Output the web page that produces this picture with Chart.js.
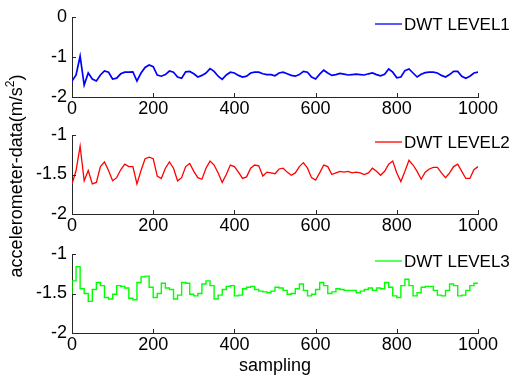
<!DOCTYPE html>
<html>
<head>
<meta charset="utf-8">
<script src="https://cdn.jsdelivr.net/npm/chart.js@4.4.1/dist/chart.umd.min.js"></script>
<style>
  body { margin: 0; background: #fff; width: 527px; height: 378px; position: relative; overflow: hidden;
         font-family: Arial, "Liberation Sans", sans-serif; }
  canvas { position: absolute; left: 0; }
  #ylab { position: absolute; left: -133px; top: 164px; width: 300px; text-align: center; font-size: 18px;
          line-height: 22px; transform: rotate(-90deg); color: #000; }
  #ylab sup { font-size: 12px; vertical-align: baseline; position: relative; top: -8px; }
  #xlab { position: absolute; left: 175px; top: 355px; width: 200px; text-align: center; font-size: 18px; color: #000; }
</style>
</head>
<body>
<canvas id="c1" width="527" height="120" style="top:0px"></canvas>
<canvas id="c2" width="527" height="120" style="top:118px"></canvas>
<canvas id="c3" width="527" height="120" style="top:237px"></canvas>
<div id="ylab">accelerometer-data(m/s<sup>2</sup>)</div>
<div id="xlab">sampling</div>
<script>
// sample index every 10 samples, 0..1000
const samples = Array.from({ length: 101 }, (_, i) => i * 10);
const xTicks = [0, 200, 400, 600, 800, 1000];

const level1 = [
  -1.60, -1.45, -0.98, -1.70, -1.40, -1.55, -1.60, -1.45, -1.35, -1.38,
  -1.55, -1.53, -1.42, -1.38, -1.38, -1.37, -1.60, -1.40, -1.26, -1.20,
  -1.24, -1.45, -1.48, -1.44, -1.35, -1.38, -1.50, -1.53, -1.37, -1.36,
  -1.42, -1.50, -1.46, -1.40, -1.29, -1.36, -1.48, -1.56, -1.45, -1.38,
  -1.40, -1.46, -1.50, -1.48, -1.40, -1.38, -1.38, -1.42, -1.44, -1.44,
  -1.47, -1.40, -1.38, -1.42, -1.46, -1.48, -1.44, -1.36, -1.38, -1.50,
  -1.55, -1.43, -1.33, -1.40, -1.46, -1.44, -1.41, -1.43, -1.45, -1.44,
  -1.43, -1.44, -1.45, -1.42, -1.40, -1.44, -1.47, -1.43, -1.30, -1.38,
  -1.52, -1.50, -1.34, -1.30, -1.40, -1.50, -1.43, -1.39, -1.38, -1.38,
  -1.40, -1.46, -1.50, -1.44, -1.36, -1.36, -1.48, -1.53, -1.48, -1.40,
  -1.38
];

const level2 = [
  -1.62, -1.45, -1.14, -1.58, -1.45, -1.62, -1.60, -1.40, -1.34, -1.45,
  -1.58, -1.54, -1.44, -1.37, -1.40, -1.40, -1.62, -1.45, -1.30, -1.28,
  -1.30, -1.52, -1.55, -1.42, -1.34, -1.42, -1.58, -1.54, -1.40, -1.36,
  -1.46, -1.54, -1.56, -1.42, -1.33, -1.38, -1.48, -1.60, -1.50, -1.38,
  -1.40, -1.47, -1.55, -1.53, -1.42, -1.38, -1.39, -1.52, -1.47, -1.48,
  -1.49, -1.43, -1.42, -1.47, -1.51, -1.48, -1.40, -1.35, -1.42, -1.54,
  -1.57, -1.48, -1.38, -1.40, -1.50, -1.48, -1.46, -1.47, -1.46, -1.48,
  -1.47, -1.48, -1.50, -1.48, -1.42, -1.46, -1.51, -1.46, -1.37, -1.33,
  -1.48, -1.59, -1.46, -1.32, -1.38, -1.46, -1.56, -1.47, -1.43, -1.41,
  -1.41, -1.48, -1.54, -1.48, -1.40, -1.37, -1.46, -1.55, -1.55, -1.44,
  -1.40
];

const level3 = [
  -1.52, -1.34, -1.16, -1.44, -1.50, -1.60, -1.45, -1.36, -1.40, -1.55,
  -1.57, -1.51, -1.40, -1.41, -1.43, -1.56, -1.58, -1.36, -1.29, -1.28,
  -1.42, -1.55, -1.50, -1.37, -1.43, -1.45, -1.57, -1.52, -1.36, -1.37,
  -1.51, -1.53, -1.50, -1.38, -1.34, -1.40, -1.57, -1.52, -1.45, -1.41,
  -1.40, -1.53, -1.52, -1.44, -1.42, -1.41, -1.45, -1.47, -1.48, -1.49,
  -1.47, -1.42, -1.43, -1.46, -1.51, -1.50, -1.44, -1.38, -1.46, -1.53,
  -1.51, -1.45, -1.36, -1.40, -1.50, -1.48, -1.44, -1.45, -1.46, -1.46,
  -1.46, -1.49, -1.47, -1.45, -1.43, -1.46, -1.43, -1.44, -1.36, -1.42,
  -1.53, -1.55, -1.40, -1.32, -1.40, -1.53, -1.49, -1.42, -1.41, -1.41,
  -1.46, -1.52, -1.53, -1.46, -1.38, -1.40, -1.53, -1.52, -1.46, -1.40,
  -1.37
];

const FONT = { family: 'Arial, "Liberation Sans", sans-serif', size: 18 };
const AXIS = '#262626';

// MATLAB style legend (line + text) at the top right, and inward tick marks
const matlabBits = {
  id: 'matlabBits',
  afterDraw(chart) {
    const ctx = chart.ctx, a = chart.chartArea;
    const ds = chart.data.datasets[0];
    const ly = a.top + 7;
    ctx.save();
    ctx.strokeStyle = ds.borderColor;
    ctx.lineWidth = 1.3;
    ctx.beginPath(); ctx.moveTo(375, ly); ctx.lineTo(402, ly); ctx.stroke();
    ctx.fillStyle = '#000';
    ctx.font = '17px Arial, "Liberation Sans", sans-serif';
    ctx.textBaseline = 'middle';
    ctx.fillText(ds.label, 404, ly + 1);
    // ticks
    ctx.strokeStyle = AXIS;
    ctx.lineWidth = 1;
    const xs = chart.scales.x, ys = chart.scales.y;
    xs.ticks.forEach(t => {
      const px = Math.round(xs.getPixelForValue(t.value)) + 0.5;
      ctx.beginPath(); ctx.moveTo(px, a.bottom); ctx.lineTo(px, a.bottom - 4); ctx.stroke();
    });
    ys.ticks.forEach(t => {
      const py = Math.round(ys.getPixelForValue(t.value)) + 0.5;
      ctx.beginPath(); ctx.moveTo(a.left, py); ctx.lineTo(a.left + 4, py); ctx.stroke();
    });
    ctx.restore();
  }
};

function makePanel(id, label, values, color, yMin, yMax, yStep, areaH, stepped, lw) {
  new Chart(document.getElementById(id), {
    type: 'line',
    data: {
      datasets: [{
        label: label,
        data: samples.map((s, i) => ({ x: s, y: values[i] })),
        borderColor: color,
        borderWidth: lw,
        pointRadius: 0,
        tension: 0,
        stepped: stepped ? 'after' : false
      }]
    },
    options: {
      responsive: false,
      animation: false,
      layout: { padding: { top: 17, right: 49, left: 0, bottom: 0 } },
      plugins: { legend: { display: false }, tooltip: { enabled: false } },
      scales: {
        x: {
          type: 'linear', min: 0, max: 1000,
          afterBuildTicks: s => { s.ticks = xTicks.map(v => ({ value: v })); },
          ticks: { color: '#000', font: FONT, padding: 1, maxRotation: 0, callback: v => String(v) },
          grid: { display: false, drawTicks: false },
          border: { color: AXIS, width: 1 },
          afterFit: s => { s.height = 120 - 17 - areaH; }
        },
        y: {
          min: yMin, max: yMax,
          ticks: { stepSize: yStep, color: '#000', font: FONT, padding: 5, callback: v => String(v) },
          grid: { display: false, drawTicks: false },
          border: { color: AXIS, width: 1 },
          afterFit: s => { s.width = 72; }
        }
      }
    },
    plugins: [matlabBits]
  });
}

makePanel('c1', 'DWT LEVEL1', level1, '#0000ff', -2, 0, 1, 80, false, 1.7);
makePanel('c2', 'DWT LEVEL2', level2, '#ff0000', -2, -1, 0.5, 79, false, 1.3);
makePanel('c3', 'DWT LEVEL3', level3, '#00ff00', -2, -1, 0.5, 79, true, 1.4);
</script>
</body>
</html>
